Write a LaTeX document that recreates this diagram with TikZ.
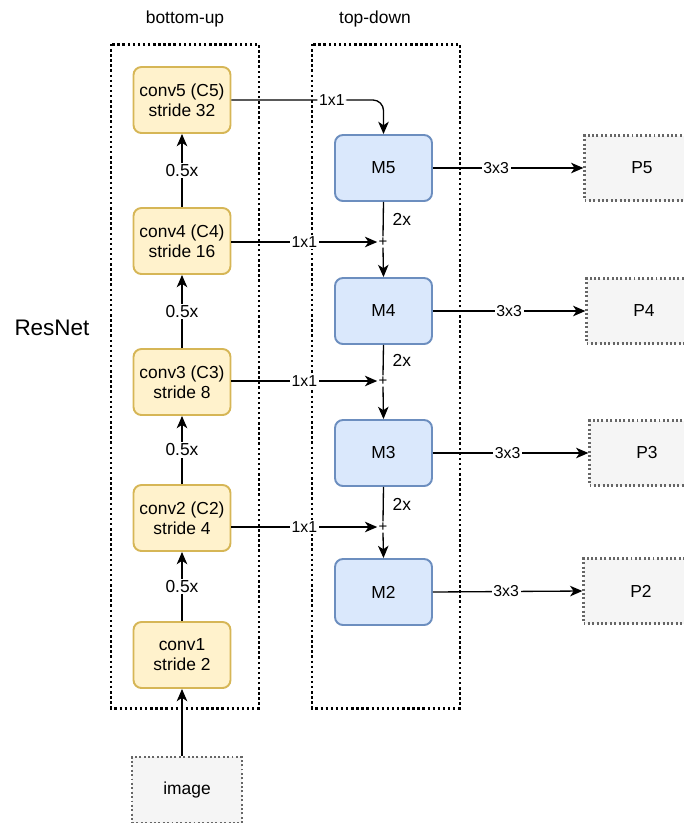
\documentclass[tikz,border=0pt]{standalone}
\usepackage{fontspec}
\setmainfont{Liberation Sans}
\usetikzlibrary{arrows.meta}
\definecolor{convfill}{HTML}{FFF2CC}
\definecolor{convline}{HTML}{D6B656}
\definecolor{mfill}{HTML}{DAE8FC}
\definecolor{mline}{HTML}{6C8EBF}
\definecolor{pfill}{HTML}{F5F5F5}
\definecolor{pline}{HTML}{666666}
\tikzset{
  every node/.style={font=\fontsize{9.9}{11.3}\selectfont},
  convnode/.style={draw=convline, fill=convfill, line width=1.1pt, rounded corners=4.5pt,
    minimum width=1.94cm, minimum height=1.32cm, align=center, inner sep=0pt},
  mnode/.style={draw=mline, fill=mfill, line width=1.1pt, rounded corners=4.5pt,
    minimum width=1.94cm, minimum height=1.32cm, inner sep=0pt},
  outnode/.style={draw=pline, fill=pfill, line width=1.3pt, dash pattern=on 1.1pt off 1.4pt,
    minimum width=2.3cm, minimum height=1.3cm, inner sep=0pt},
  plusnode/.style={font=\fontsize{8.5}{9}\selectfont, inner sep=0.6pt},
  frame/.style={line width=1.7pt, dash pattern=on 1.4pt off 1.5pt},
  conn/.style={line width=0.75pt, -{Stealth[length=7pt,width=6pt,inset=2pt]}},
  plain/.style={line width=0.75pt},
  lbl/.style={fill=white, inner sep=1pt},
  kernel/.style={fill=white, inner sep=1pt, font=\fontsize{9}{10}\selectfont},
  twox/.style={right=5pt, inner sep=0pt}
}
\newcommand{\convbox}[4]{\node[convnode] (#1) at ( #2 , #3 ) {#4};}
\newcommand{\mergebox}[3]{\node[mnode] (#1) at ( 383.5 , #2 ) {#3};}
\newcommand{\predbox}[4]{\node[outnode] (#1) at ( #2 , #3 ) {#4};}
\newcommand{\plusat}[2]{\node[plusnode] (#1) at ( 383 , #2 ) {+};}
\begin{document}
\begin{tikzpicture}[x=0.02cm, y=-0.02cm]
\useasboundingbox (0,0) rectangle (684,823);
\clip (0,0) rectangle (684,823);
% the two dotted frames
\draw[frame] (111,44) rectangle (259,708);
\draw[frame] (312,44) rectangle (460,708);
\node (butitle) at (185,19) {bottom-up};
\node (tdtitle) at (375,19) {top-down};
\node[font=\fontsize{12.8}{14}\selectfont] (resnet) at (52,328) {ResNet};
% bottom-up column
\convbox{conv5}{182}{100}{conv5 (C5)\\stride 32}
\convbox{conv4}{182}{241}{conv4 (C4)\\stride 16}
\convbox{conv3}{182}{382}{conv3 (C3)\\stride 8}
\convbox{conv2}{182}{518}{conv2 (C2)\\stride 4}
\convbox{conv1}{182}{655}{conv1\\stride 2}
\node[outnode, minimum width=2.2cm, minimum height=1.32cm] (image) at (187,790) {image};
% top-down column
\mergebox{M5}{168}{M5}
\mergebox{M4}{311}{M4}
\mergebox{M3}{453}{M3}
\mergebox{M2}{592}{M2}
\plusat{plus4}{242}
\plusat{plus3}{381}
\plusat{plus2}{527}
% outputs
\predbox{P5}{642}{168}{P5}
\predbox{P4}{644}{311}{P4}
\predbox{P3}{647}{453}{P3}
\predbox{P2}{641}{591}{P2}
% bottom-up arrows
\draw[conn] (image.north -| conv1.south) -- (conv1.south);
\draw[conn] (conv1) -- node[lbl]{0.5x} (conv2);
\draw[conn] (conv2) -- node[lbl]{0.5x} (conv3);
\draw[conn] (conv3) -- node[lbl]{0.5x} (conv4);
\draw[conn] (conv4) -- node[lbl]{0.5x} (conv5);
% lateral 1x1
\draw[conn, rounded corners=6pt] (conv5.east) -| node[kernel, pos=0.33]{1x1} (M5.north);
\draw[conn] (conv4.east |- plus4) -- node[kernel]{1x1} (plus4.west);
\draw[conn] (conv3.east |- plus3) -- node[kernel]{1x1} (plus3.west);
\draw[conn] (conv2.east |- plus2) -- node[kernel]{1x1} (plus2.west);
% top-down 2x
\draw[plain] (M5.south) -- node[twox]{2x} (plus4.north);
\draw[conn] (plus4.south) -- (M4.north);
\draw[plain] (M4.south) -- node[twox]{2x} (plus3.north);
\draw[conn] (plus3.south) -- (M3.north);
\draw[plain] (M3.south) -- node[twox]{2x} (plus2.north);
\draw[conn] (plus2.south) -- (M2.north);
% 3x3 outputs
\draw[conn] (M5.east) -- node[kernel, pos=0.42]{3x3} (P5.west);
\draw[conn] (M4.east) -- node[kernel, pos=0.5]{3x3} (P4.west);
\draw[conn] (M3.east) -- node[kernel, pos=0.48]{3x3} (P3.west);
\draw[conn] (M2.east) -- node[kernel, pos=0.49]{3x3} (P2.west);
\end{tikzpicture}
\end{document}
